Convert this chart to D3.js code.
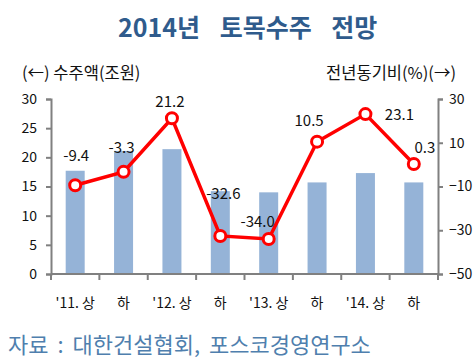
<!DOCTYPE html>
<html>
<head>
<meta charset="utf-8">
<script src="https://cdn.jsdelivr.net/npm/d3@7"></script>
<style>
  body { margin: 0; background: #fff; }
  text { font-family: "Noto Sans CJK KR", "Noto Sans", sans-serif; }
</style>
</head>
<body>
<div id="chart"></div>
<script>
var categories = ["'11. 상", "하", "'12. 상", "하", "'13. 상", "하", "'14. 상", "하"];
var orders = [17.7, 21.1, 21.4, 14.2, 14.0, 15.7, 17.3, 15.7];
var growth = [-9.4, -3.3, 21.2, -32.6, -34.0, 10.5, 23.1, 0.3];
var leftTicks = [0, 5, 10, 15, 20, 25, 30];
var rightTicks = [-50, -30, -10, 10, 30];

var width = 476, height = 361;
var plotLeft = 51, plotRight = 438, plotTop = 99, plotBottom = 274;

var svg = d3.select('#chart').append('svg')
  .attr('width', width)
  .attr('height', height);

var x = d3.scaleBand().domain(d3.range(categories.length)).range([plotLeft, plotRight]);
var yL = d3.scaleLinear().domain([0, 30]).range([plotBottom, plotTop]);
var yR = d3.scaleLinear().domain([-50, 30]).range([plotBottom, plotTop]);

// title
svg.append('text')
  .attr('x', 118).attr('y', 37)
  .attr('font-size', 25).attr('font-weight', 'bold')
  .attr('fill', '#2f5b8c')
  .attr('word-spacing', 14)
  .text('2014년 토목수주 전망');

svg.append('text')
  .attr('x', 22).attr('y', 79)
  .attr('font-size', 16.5).attr('fill', '#111')
  .text('(←) 수주액(조원)');

svg.append('text')
  .attr('x', 456).attr('y', 79)
  .attr('text-anchor', 'end')
  .attr('font-size', 16.5).attr('fill', '#111')
  .text('전년동기비(%)(→)');

// bars
svg.selectAll('rect.bar')
  .data(orders)
  .enter()
    .append('rect')
    .classed('bar', true)
    .attr('x', function(d, i){ return x(i) + x.bandwidth() / 2 - 9.5; })
    .attr('width', 19)
    .attr('y', function(d){ return yL(d); })
    .attr('height', function(d){ return plotBottom - yL(d); })
    .attr('fill', '#95b3d7');

// axes
var axisColor = '#808080';
var gL = svg.append('g').attr('transform', 'translate(' + plotLeft + ',0)')
  .call(d3.axisLeft(yL).tickValues(leftTicks).tickSize(5).tickPadding(9));
var gR = svg.append('g').attr('transform', 'translate(' + plotRight + ',0)')
  .call(d3.axisRight(yR).tickValues(rightTicks).tickSize(5).tickPadding(6));
var bounds = d3.range(categories.length + 1).map(function(i){ return plotLeft + i * x.step(); });
var gX = svg.append('g').attr('transform', 'translate(0,' + plotBottom + ')');
gX.append('line').attr('x1', plotLeft).attr('x2', plotRight)
  .attr('stroke', axisColor).attr('stroke-width', 2);
gX.selectAll('line.tick')
  .data(bounds)
  .enter()
    .append('line')
    .attr('x1', function(d){ return d; })
    .attr('x2', function(d){ return d; })
    .attr('y1', 0).attr('y2', 6)
    .attr('stroke', axisColor).attr('stroke-width', 2);
gX.selectAll('text')
  .data(categories)
  .enter()
    .append('text')
    .attr('x', function(d, i){ return x(i) + x.bandwidth() / 2; })
    .attr('y', 34)
    .attr('text-anchor', 'middle')
    .attr('font-size', 14).attr('fill', '#111')
    .text(function(d){ return d; });

[gL, gR].forEach(function(g){
  g.select('.domain').attr('stroke', axisColor).attr('stroke-width', 2);
  g.selectAll('.tick line').attr('stroke', axisColor).attr('stroke-width', 2);
  g.selectAll('.tick text').attr('font-size', 14).attr('fill', '#111')
    .style('font-family', '"Noto Sans CJK KR", sans-serif');
});

// line
var line = d3.line()
  .x(function(d, i){ return x(i) + x.bandwidth() / 2; })
  .y(function(d){ return yR(d); });

svg.append('path')
  .datum(growth)
  .attr('d', line)
  .attr('fill', 'none')
  .attr('stroke', '#ff0000')
  .attr('stroke-width', 3.5);

svg.selectAll('circle.pt')
  .data(growth)
  .enter()
    .append('circle')
    .classed('pt', true)
    .attr('cx', function(d, i){ return x(i) + x.bandwidth() / 2; })
    .attr('cy', function(d){ return yR(d); })
    .attr('r', 5.5)
    .attr('fill', '#fff')
    .attr('stroke', '#ff0000')
    .attr('stroke-width', 3);

// value labels (offsets)
var labelOffsets = [[1, -24], [-2, -19], [-2, -11], [3, -37], [-11, -12], [-8, -16], [34, 6], [11, -11]];
svg.selectAll('text.val')
  .data(growth)
  .enter()
    .append('text')
    .classed('val', true)
    .attr('x', function(d, i){ return x(i) + x.bandwidth() / 2 + labelOffsets[i][0]; })
    .attr('y', function(d, i){ return yR(d) + labelOffsets[i][1]; })
    .attr('text-anchor', 'middle')
    .attr('font-size', 15).attr('fill', '#111')
    .text(function(d){ return d.toFixed(1); });

// source
svg.append('text')
  .attr('x', 8).attr('y', 353)
  .attr('font-size', 22).attr('fill', '#4f7fae')
  .attr('word-spacing', 4)
  .text('자료 : 대한건설협회, 포스코경영연구소');
</script>
</body>
</html>
